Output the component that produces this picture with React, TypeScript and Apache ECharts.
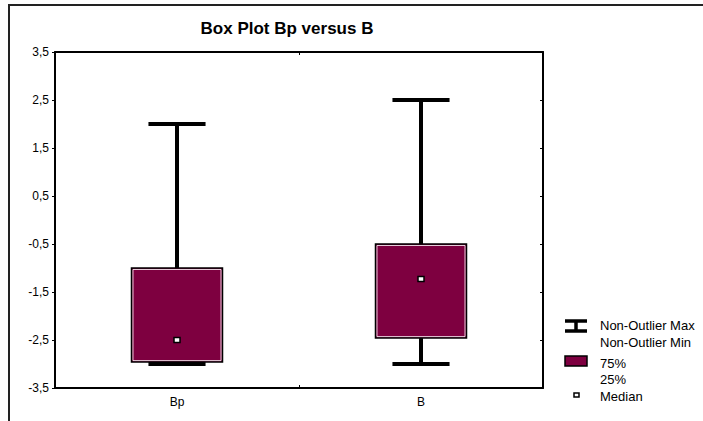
import React, { useEffect, useRef } from "react";
import * as echarts from "echarts";

const categories = ["Bp", "B"];
const nonOutlierMin = [-3.0, -3.0];
const q1 = [-2.96, -2.46];
const median = [-2.5, -1.23];
const q3 = [-1.0, -0.5];
const nonOutlierMax = [2.0, 2.5];
const yTickLabels = ["-3,5", "-2,5", "-1,5", "-0,5", "0,5", "1,5", "2,5", "3,5"];
const yMin = -3.5;
const yMax = 3.5;
const titleText = "Box Plot Bp versus B";
const legendLabels = ["Non-Outlier Max", "Non-Outlier Min", "75%", "25%", "Median"];

const FONT = "'Liberation Sans', Arial, sans-serif";
const BOX_COLOR = "#7E0040";

export default function App() {
  const ref = useRef<HTMLDivElement>(null);
  useEffect(() => {
    if (!ref.current) return;
    const chart = echarts.init(ref.current, null, { renderer: "svg" });
    const axisLine = { show: true, onZero: false, lineStyle: { color: "#000", width: 2 } };
    const data = categories.map((c, i) => [i, nonOutlierMin[i], q1[i], median[i], q3[i], nonOutlierMax[i]]);

    const option: any = {
      animation: false,
      backgroundColor: "#fff",
      textStyle: { fontFamily: FONT },
      grid: { left: 55, right: 160, top: 52, bottom: 33, containLabel: false },
      xAxis: [
        {
          type: "category",
          data: categories,
          position: "bottom",
          axisLine,
          axisTick: { show: true, inside: true, length: 3, lineStyle: { color: "#000", width: 1 } },
          axisLabel: { color: "#000", fontSize: 12, margin: 8, fontFamily: FONT },
          splitLine: { show: false },
        },
        {
          type: "category",
          data: categories,
          position: "top",
          axisLine,
          axisTick: { show: true, inside: true, length: 3, lineStyle: { color: "#000", width: 1 } },
          axisLabel: { show: false },
          splitLine: { show: false },
        },
      ],
      yAxis: [
        {
          type: "category",
          data: yTickLabels,
          boundaryGap: false,
          position: "left",
          axisLine,
          axisTick: { show: true, inside: false, length: 3, interval: 0, lineStyle: { color: "#000", width: 1 } },
          axisLabel: { color: "#000", fontSize: 12, margin: 6, interval: 0, fontFamily: FONT },
          splitLine: { show: false },
        },
        {
          type: "value",
          min: yMin,
          max: yMax,
          show: false,
          axisLine: { show: false, onZero: false },
          splitLine: { show: false },
        },
        {
          type: "category",
          data: yTickLabels,
          boundaryGap: false,
          position: "right",
          axisLine,
          axisTick: { show: true, inside: true, length: 3, interval: 0, lineStyle: { color: "#000", width: 1 } },
          axisLabel: { show: false },
          splitLine: { show: false },
        },
      ],
      series: [
        {
          type: "custom",
          xAxisIndex: 0,
          yAxisIndex: 1,
          encode: { x: 0, y: [1, 2, 3, 4, 5] },
          data,
          z: 5,
          renderItem: (params: any, api: any) => {
            const x = api.value(0);
            const pMin = api.coord([x, api.value(1)]);
            const pQ1 = api.coord([x, api.value(2)]);
            const pMed = api.coord([x, api.value(3)]);
            const pQ3 = api.coord([x, api.value(4)]);
            const pMax = api.coord([x, api.value(5)]);
            const band = api.size([1, 0])[0];
            const boxW = band * 0.373;
            const capW = band * 0.234;
            const cx = pMed[0];
            const lineStyle = { stroke: "#000", lineWidth: 4, lineCap: "butt" };
            return {
              type: "group",
              children: [
                { type: "line", shape: { x1: cx, y1: pMax[1], x2: cx, y2: pQ3[1] }, style: lineStyle },
                { type: "line", shape: { x1: cx, y1: pQ1[1], x2: cx, y2: pMin[1] }, style: lineStyle },
                { type: "line", shape: { x1: cx - capW / 2, y1: pMax[1], x2: cx + capW / 2, y2: pMax[1] }, style: lineStyle },
                { type: "line", shape: { x1: cx - capW / 2, y1: pMin[1], x2: cx + capW / 2, y2: pMin[1] }, style: lineStyle },
                {
                  type: "rect",
                  shape: { x: cx - boxW / 2, y: pQ3[1], width: boxW, height: pQ1[1] - pQ3[1] },
                  style: { fill: BOX_COLOR, stroke: "#000", lineWidth: 1.5 },
                },
                {
                  type: "rect",
                  shape: { x: cx - boxW / 2 + 1.5, y: pQ3[1] + 1.5, width: boxW - 3, height: pQ1[1] - pQ3[1] - 3 },
                  style: { fill: "none", stroke: "#fff", lineWidth: 0.8 },
                },
                {
                  type: "rect",
                  shape: { x: cx - 3, y: pMed[1] - 2.5, width: 6, height: 5 },
                  style: { fill: "#fff", stroke: "#000", lineWidth: 1.5 },
                },
              ],
            };
          },
        },
      ],
      graphic: [
        {
          type: "rect",
          shape: { x: 9, y: 5, width: 1000, height: 1000 },
          style: { fill: "none", stroke: "#222", lineWidth: 2 },
          z: 0,
          silent: true,
        },
        {
          type: "text",
          x: 287,
          y: 28,
          style: { text: titleText, fontSize: 17, fontWeight: "bold", fontFamily: FONT, fill: "#000", align: "center", verticalAlign: "middle" },
        },
        // legend: whisker icon
        { type: "line", shape: { x1: 565, y1: 321, x2: 587, y2: 321 }, style: { stroke: "#000", lineWidth: 3.5 } },
        { type: "line", shape: { x1: 565, y1: 331, x2: 587, y2: 331 }, style: { stroke: "#000", lineWidth: 3.5 } },
        { type: "line", shape: { x1: 576, y1: 321, x2: 576, y2: 331 }, style: { stroke: "#000", lineWidth: 3.5 } },
        { type: "text", x: 600, y: 325, style: { text: legendLabels[0], fontSize: 13, fontFamily: FONT, fill: "#000", verticalAlign: "middle" } },
        { type: "text", x: 600, y: 342, style: { text: legendLabels[1], fontSize: 13, fontFamily: FONT, fill: "#000", verticalAlign: "middle" } },
        // legend: box icon
        { type: "rect", shape: { x: 565, y: 356, width: 22, height: 10 }, style: { fill: BOX_COLOR, stroke: "#000", lineWidth: 1.5 } },
        { type: "text", x: 600, y: 363, style: { text: legendLabels[2], fontSize: 13, fontFamily: FONT, fill: "#000", verticalAlign: "middle" } },
        { type: "text", x: 600, y: 379, style: { text: legendLabels[3], fontSize: 13, fontFamily: FONT, fill: "#000", verticalAlign: "middle" } },
        // legend: median icon
        { type: "rect", shape: { x: 574, y: 393, width: 5, height: 4 }, style: { fill: "#fff", stroke: "#000", lineWidth: 1.5 } },
        { type: "text", x: 600, y: 396, style: { text: legendLabels[4], fontSize: 13, fontFamily: FONT, fill: "#000", verticalAlign: "middle" } },
      ],
    };
    chart.setOption(option);
    return () => chart.dispose();
  }, []);
  return <div ref={ref} style={{ position: "fixed", left: 0, top: 0, width: 703, height: 421 }} />;
}
